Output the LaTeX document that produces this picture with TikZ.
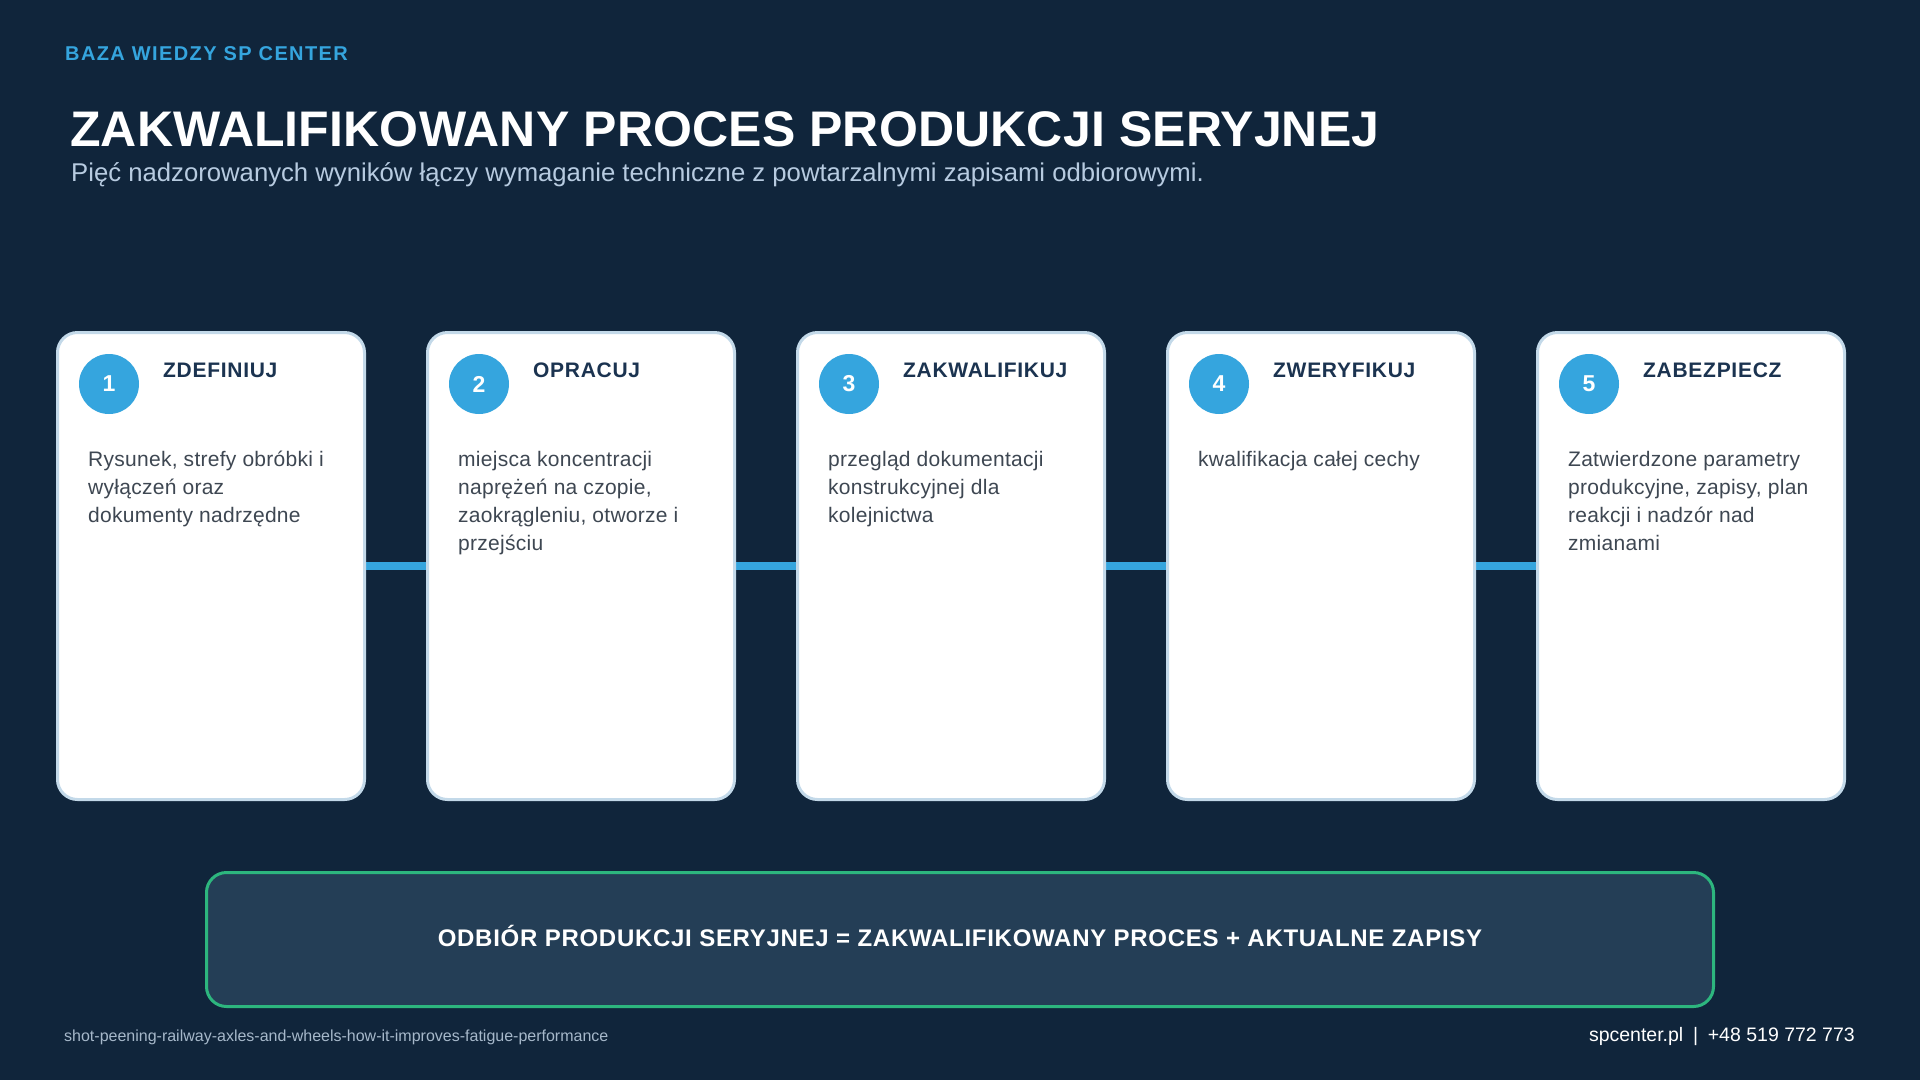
\documentclass[tikz,border=0pt]{standalone}
\usepackage{fontspec}
\setmainfont{Liberation Sans}
\definecolor{bg}{HTML}{10253B}
\definecolor{cardborder}{HTML}{C3D9E9}
\definecolor{accent}{HTML}{35A5DE}
\definecolor{steptitle}{HTML}{1B3350}
\definecolor{bodytext}{HTML}{3E4752}
\definecolor{subtitle}{HTML}{B7CBE0}
\definecolor{boxfill}{HTML}{243E56}
\definecolor{boxborder}{HTML}{2DB67E}
\definecolor{footleft}{HTML}{A6B8CA}
\tikzset{
  card/.style={draw=cardborder, line width=3pt, fill=white, rounded corners=20pt,
    minimum width=307pt, minimum height=467pt, inner sep=0pt},
  badge/.style={circle, fill=accent, minimum size=60pt, inner sep=0pt,
    text=white, font=\fontsize{23}{23}\selectfont\bfseries},
  stitle/.style={anchor=base west, inner sep=0pt, text=steptitle,
    font=\fontsize{21}{24}\selectfont\bfseries\addfontfeature{LetterSpace=3.4}},
  sbody/.style={anchor=north west, inner sep=0pt, text=bodytext, align=left,
    font=\fontsize{21}{28}\selectfont\addfontfeature{LetterSpace=1.3}},
  link/.style={draw=accent, line width=8pt},
  txt/.style={anchor=base west, inner sep=0pt}
}
\begin{document}
\begin{tikzpicture}[x=1pt, y=-1pt]
\useasboundingbox (0,0) rectangle (1920,1080);
\fill[bg] (0,0) rectangle (1920,1080);
\node[txt, text=accent, font=\fontsize{20}{24}\selectfont\bfseries\addfontfeature{LetterSpace=7}] (kb) at (65,60) {BAZA WIEDZY SP CENTER};
\node[txt, text=white, font=\fontsize{50}{56}\selectfont\bfseries\addfontfeature{LetterSpace=0.3}] (title) at (70,146) {ZAKWALIFIKOWANY PROCES PRODUKCJI SERYJNEJ};
\node[txt, text=subtitle, font=\fontsize{25.7}{28}\selectfont] (sub) at (71,181) {Pięć nadzorowanych wyników łączy wymaganie techniczne z powtarzalnymi zapisami odbiorowymi.};
% connectors (behind cards)
\coordinate (k1) at (211,566);
\coordinate (k2) at (581,566);
\coordinate (k3) at (951,566);
\coordinate (k4) at (1321,566);
\coordinate (k5) at (1691,566);
\draw[link] (k1) -- (k2);
\draw[link] (k2) -- (k3);
\draw[link] (k3) -- (k4);
\draw[link] (k4) -- (k5);
\foreach \i/\x/\t/\b in {
  1/211/ZDEFINIUJ/{Rysunek, strefy obróbki i\\wyłączeń oraz\\dokumenty nadrzędne},
  2/581/OPRACUJ/{miejsca koncentracji\\naprężeń na czopie,\\zaokrągleniu, otworze i\\przejściu},
  3/951/ZAKWALIFIKUJ/{przegląd dokumentacji\\konstrukcyjnej dla\\kolejnictwa},
  4/1321/ZWERYFIKUJ/{kwalifikacja całej cechy},
  5/1691/ZABEZPIECZ/{Zatwierdzone parametry\\produkcyjne, zapisy, plan\\reakcji i nadzór nad\\zmianami}}{
  \node[card] (c\i) at (\x,566) {};
  \node[badge] (n\i) at (\x-102,384) {\i};
  \node[stitle] (t\i) at (\x-48,377) {\t};
  \node[sbody] (b\i) at (\x-123,451) {\b};
}
\node[draw=boxborder, line width=3pt, fill=boxfill, rounded corners=20pt,
  minimum width=1507pt, minimum height=134pt, inner sep=0pt] (sum) at (960,939.5) {};
\node[anchor=base, inner sep=0pt, text=white,
  font=\fontsize{24}{28}\selectfont\bfseries\addfontfeature{LetterSpace=3}] (sumtxt) at (960,946.5)
  {ODBIÓR PRODUKCJI SERYJNEJ = ZAKWALIFIKOWANY PROCES + AKTUALNE ZAPISY};
\node[txt, text=footleft, font=\fontsize{16}{18}\selectfont] (slug) at (64,1041) {shot-peening-railway-axles-and-wheels-how-it-improves-fatigue-performance};
\node[anchor=base east, inner sep=0pt, text=white, font=\fontsize{19.5}{22}\selectfont] (contact) at (1855,1041) {spcenter.pl\enspace|\enspace+48 519 772 773};
\end{tikzpicture}
\end{document}
